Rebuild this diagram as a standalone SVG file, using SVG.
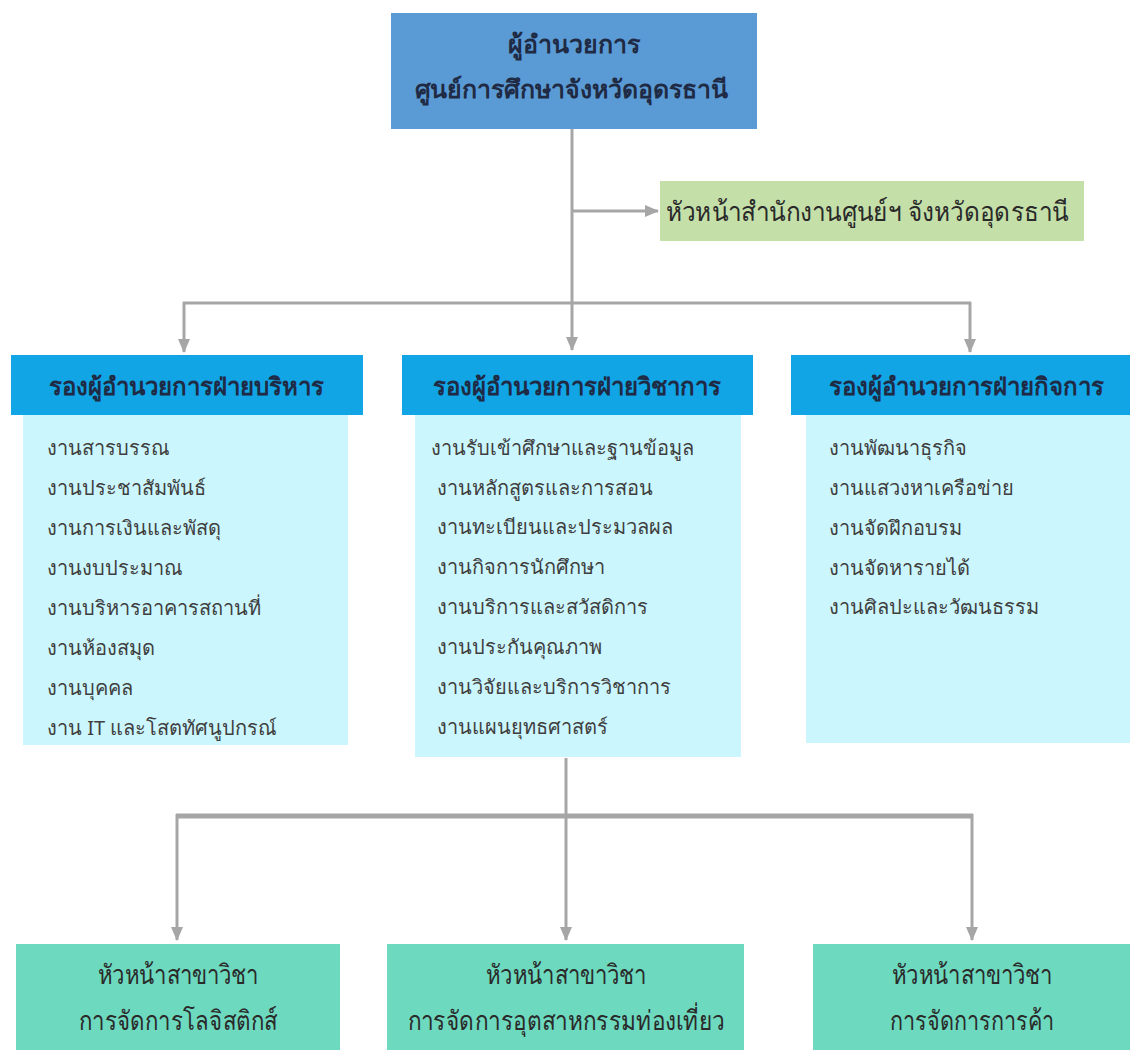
<svg xmlns="http://www.w3.org/2000/svg" width="1130" height="1050" viewBox="0 0 1130 1050">
<defs>
<marker id="arr" markerWidth="14" markerHeight="12" refX="13" refY="6" orient="auto" markerUnits="userSpaceOnUse">
<path d="M0,0 L14,6 L0,12 Z" fill="#A6A6A6"/>
</marker>
<style>
text{font-family:"Noto Sans","DejaVu Sans",sans-serif}
.top{font-size:25px;font-weight:bold;fill:#1F2A44;text-anchor:middle}
.hd{font-size:24px;font-weight:bold;fill:#1F2A44;text-anchor:middle}
.it{font-size:20px;fill:#3F3F3F}
.bt{font-size:27px;fill:#2A2A2A;text-anchor:middle}
.ln{stroke:#A6A6A6;stroke-width:3;fill:none}
</style>
</defs>
<rect width="1130" height="1050" fill="#FFFFFF"/>
<g id="connectors">
<path class="ln" d="M572,129 V350" marker-end="url(#arr)"/>
<path class="ln" d="M572,211 H658" marker-end="url(#arr)"/>
<path class="ln" d="M183,303 H971"/>
<path class="ln" d="M184,302 V352" marker-end="url(#arr)"/>
<path class="ln" d="M970,302 V352" marker-end="url(#arr)"/>
<path class="ln" d="M566,758 V940" marker-end="url(#arr)"/>
<path class="ln" d="M176,816 H973" style="stroke-width:5"/>
<path class="ln" d="M177,814 V940" marker-end="url(#arr)"/>
<path class="ln" d="M972,814 V940" marker-end="url(#arr)"/>
</g>
<g id="director">
<rect x="391" y="13" width="366" height="116" fill="#5B9BD5"/>
<text class="top" x="574" y="53">ผู้อำนวยการ</text>
<text class="top" x="571" y="98" textLength="313" lengthAdjust="spacingAndGlyphs">ศูนย์การศึกษาจังหวัดอุดรธานี</text>
</g>
<g id="office-head">
<rect x="660" y="181" width="424" height="60" fill="#C5DFA9"/>
<text class="bt" x="867" y="221" textLength="403" lengthAdjust="spacingAndGlyphs">หัวหน้าสำนักงานศูนย์ฯ จังหวัดอุดรธานี</text>
</g>
<g id="deputy-admin">
<rect x="11" y="355" width="352" height="60" fill="#12A5E6"/>
<text class="hd" x="186" y="395">รองผู้อำนวยการฝ่ายบริหาร</text>
<rect x="23" y="415" width="325" height="330" fill="#CCF6FD"/>
<text class="it" x="47" y="455">งานสารบรรณ</text>
<text class="it" x="47" y="495">งานประชาสัมพันธ์</text>
<text class="it" x="47" y="535">งานการเงินและพัสดุ</text>
<text class="it" x="47" y="575">งานงบประมาณ</text>
<text class="it" x="47" y="615">งานบริหารอาคารสถานที่</text>
<text class="it" x="47" y="655">งานห้องสมุด</text>
<text class="it" x="47" y="695">งานบุคคล</text>
<text class="it" x="47" y="735">งาน IT และโสตทัศนูปกรณ์</text>
</g>
<g id="deputy-academic">
<rect x="402" y="355" width="351" height="60" fill="#12A5E6"/>
<text class="hd" x="577" y="395">รองผู้อำนวยการฝ่ายวิชาการ</text>
<rect x="415" y="415" width="326" height="342" fill="#CCF6FD"/>
<text class="it" x="431" y="455">งานรับเข้าศึกษาและฐานข้อมูล</text>
<text class="it" x="437" y="495">งานหลักสูตรและการสอน</text>
<text class="it" x="437" y="534">งานทะเบียนและประมวลผล</text>
<text class="it" x="437" y="574">งานกิจการนักศึกษา</text>
<text class="it" x="437" y="614">งานบริการและสวัสดิการ</text>
<text class="it" x="437" y="654">งานประกันคุณภาพ</text>
<text class="it" x="437" y="694">งานวิจัยและบริการวิชาการ</text>
<text class="it" x="437" y="734">งานแผนยุทธศาสตร์</text>
</g>
<g id="deputy-affairs">
<rect x="791" y="355" width="339" height="60" fill="#12A5E6"/>
<text class="hd" x="966" y="395">รองผู้อำนวยการฝ่ายกิจการ</text>
<rect x="806" y="415" width="324" height="328" fill="#CCF6FD"/>
<text class="it" x="829" y="455">งานพัฒนาธุรกิจ</text>
<text class="it" x="829" y="495">งานแสวงหาเครือข่าย</text>
<text class="it" x="829" y="535">งานจัดฝึกอบรม</text>
<text class="it" x="829" y="575">งานจัดหารายได้</text>
<text class="it" x="829" y="614">งานศิลปะและวัฒนธรรม</text>
</g>
<g id="head-logistics">
<rect x="16" y="944" width="324" height="106" fill="#6DD9BF"/>
<text class="bt" x="178" y="984" textLength="161" lengthAdjust="spacingAndGlyphs">หัวหน้าสาขาวิชา</text>
<text class="bt" x="178" y="1030" textLength="198" lengthAdjust="spacingAndGlyphs">การจัดการโลจิสติกส์</text>
</g>
<g id="head-tourism">
<rect x="387" y="944" width="357" height="106" fill="#6DD9BF"/>
<text class="bt" x="566" y="984" textLength="161" lengthAdjust="spacingAndGlyphs">หัวหน้าสาขาวิชา</text>
<text class="bt" x="566" y="1030" textLength="317" lengthAdjust="spacingAndGlyphs">การจัดการอุตสาหกรรมท่องเที่ยว</text>
</g>
<g id="head-trade">
<rect x="813" y="944" width="317" height="106" fill="#6DD9BF"/>
<text class="bt" x="972" y="984" textLength="161" lengthAdjust="spacingAndGlyphs">หัวหน้าสาขาวิชา</text>
<text class="bt" x="972" y="1030" textLength="164" lengthAdjust="spacingAndGlyphs">การจัดการการค้า</text>
</g>
</svg>
